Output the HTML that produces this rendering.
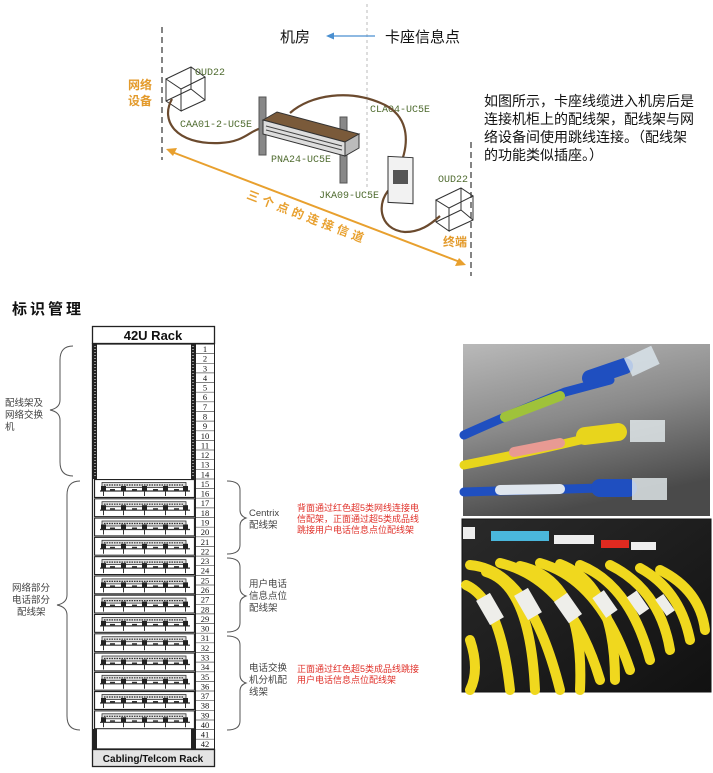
<!DOCTYPE html>
<html><head><meta charset="utf-8"><style>
body{margin:0;background:#fff;width:713px;height:773px;overflow:hidden}
svg{display:block}
.cn{font-family:"Liberation Sans","Noto Sans CJK SC",sans-serif}
.mono{font-family:"Liberation Mono","DejaVu Sans Mono",monospace;fill:#4f6b2f;font-size:10px}
</style></head><body>
<svg width="713" height="773" viewBox="0 0 713 773" xmlns="http://www.w3.org/2000/svg">
<defs>
<symbol id="pp" viewBox="0 0 101 19" width="101" height="19">
<rect x="0.5" y="0.5" width="100" height="18" fill="#fff" stroke="#222" stroke-width="1.2"/>
<rect x="8" y="3.5" width="84" height="5" fill="#ddd" stroke="#333" stroke-width="0.8"/>
<path d="M10 6h80" stroke="#333" stroke-width="1.2" stroke-dasharray="1.5 1"/>
<line x1="6" y1="12" x2="96" y2="12" stroke="#333" stroke-width="1.2"/>
<g fill="#222"><rect x="7" y="7" width="5" height="5"/><rect x="27" y="7" width="5" height="5"/><rect x="48" y="7" width="5" height="5"/><rect x="69" y="7" width="5" height="5"/><rect x="89" y="7" width="5" height="5"/></g>
<g stroke="#333" stroke-width="1"><line x1="9.5" y1="12" x2="9.5" y2="17"/><line x1="29.5" y1="12" x2="29.5" y2="17"/><line x1="50.5" y1="12" x2="50.5" y2="17"/><line x1="71.5" y1="12" x2="71.5" y2="17"/><line x1="91.5" y1="12" x2="91.5" y2="17"/></g>
<g fill="#333"><rect x="16" y="10" width="5" height="1.5"/><rect x="38" y="10" width="5" height="1.5"/><rect x="59" y="10" width="5" height="1.5"/><rect x="80" y="10" width="5" height="1.5"/></g>
</symbol>
<linearGradient id="g1" x1="0" y1="0" x2="0.3" y2="1"><stop offset="0" stop-color="#b9b9b9"/><stop offset="0.5" stop-color="#8a8a8a"/><stop offset="1" stop-color="#4a4a4a"/></linearGradient>
<linearGradient id="g2" x1="0" y1="0" x2="1" y2="1"><stop offset="0" stop-color="#2a2a2a"/><stop offset="1" stop-color="#111"/></linearGradient>
</defs>

<!-- TOP DIAGRAM -->
<line x1="367" y1="4" x2="367" y2="190" stroke="#bbb" stroke-dasharray="3 3"/>
<line x1="162" y1="27" x2="162" y2="160" stroke="#333" stroke-width="1.2" stroke-dasharray="6 4"/>
<line x1="471" y1="142" x2="471" y2="276" stroke="#333" stroke-width="1.2" stroke-dasharray="6 4"/>
<text x="280" y="42" class="cn" font-size="15" fill="#111">机房</text>
<text x="385" y="42" class="cn" font-size="15" fill="#111">卡座信息点</text>
<line x1="332" y1="36" x2="375" y2="36" stroke="#4a8fd0" stroke-width="1.2"/>
<path d="M326 36l8-3.5v7z" fill="#4a8fd0"/>
<text x="128" y="89" class="cn" font-size="12" font-weight="bold" fill="#e39a2b">网络</text>
<text x="128" y="105" class="cn" font-size="12" font-weight="bold" fill="#e39a2b">设备</text>
<text x="443" y="246" class="cn" font-size="12" font-weight="bold" fill="#e39a2b">终端</text>
<g fill="none" stroke="#333" stroke-width="1"><path d="M166 79l25-12 14 10-24 12zM166 79v22l15 10v-22M205 77v23l-24 11M191 67v22l-25 12M191 89l14 11"/></g>
<g fill="none" stroke="#333" stroke-width="1"><path d="M436 200l25-12 12 8-24 12zM436 200v22l13 9v-23M473 196v24l-24 11M461 188v22l-25 12M461 210l12 10"/></g>
<text x="195" y="75" class="mono">OUD22</text>
<text x="438" y="182" class="mono">OUD22</text>
<text x="180" y="127" class="mono">CAA01-2-UC5E</text>
<text x="271" y="162" class="mono">PNA24-UC5E</text>
<text x="370" y="112" class="mono">CLA04-UC5E</text>
<text x="319" y="198" class="mono">JKA09-UC5E</text>
<g fill="none" stroke="#6b4a2e" stroke-width="2.2">
<path d="M172 99C160 120 175 145 220 143C245 142 250 130 262 128"/>
<path d="M290 113C310 95 350 88 385 105C410 118 410 145 398 170"/>
<path d="M393 186C375 200 378 230 405 232C420 232 430 225 440 216"/>
</g>
<rect x="259" y="97" width="7" height="58" fill="#888" stroke="#555"/>
<rect x="340" y="117" width="7" height="66" fill="#888" stroke="#555"/>
<path d="M263 120l14-8 82 22-14 8z" fill="#7a5a3a" stroke="#333"/>
<path d="M263 120l82 22v14l-82-22z" fill="#ddd" stroke="#333"/>
<path d="M266 126l76 20M266 130l76 20" stroke="#444"/>
<path d="M345 142l14-8v14l-14 8z" fill="#bbb" stroke="#333"/>
<rect x="388" y="157" width="25" height="46" fill="#f2f2f2" stroke="#333" transform="skewY(3)" transform-origin="400 180"/>
<rect x="393" y="170" width="15" height="14" fill="#555"/>
<line x1="172" y1="152" x2="460" y2="262" stroke="#e8a02e" stroke-width="2"/>
<path d="M166 149l11-1-4 8z" fill="#e8a02e"/>
<path d="M466 265l-11 1 4-8z" fill="#e8a02e"/>
<text transform="translate(246 198) rotate(21)" class="cn" font-size="12" font-weight="bold" fill="#e8a02e" letter-spacing="4">三个点的连接信道</text>
<g class="cn" font-size="14" fill="#111">
<text x="484" y="106">如图所示，卡座线缆进入机房后是</text>
<text x="484" y="124">连接机柜上的配线架，配线架与网</text>
<text x="484" y="142">络设备间使用跳线连接。（配线架</text>
<text x="484" y="160">的功能类似插座。）</text>
</g>

<text x="12" y="314" class="cn" font-size="15" font-weight="bold" fill="#111" letter-spacing="3">标识管理</text>

<!-- RACK -->
<rect x="92.5" y="326.5" width="122" height="17" fill="#fff" stroke="#222" stroke-width="1.3"/>
<text x="153" y="340" text-anchor="middle" class="cn" font-size="13" font-weight="bold" fill="#111">42U Rack</text>
<rect x="92.5" y="344" width="103" height="405" fill="#fff" stroke="#222" stroke-width="1.3"/>
<rect x="93" y="344" width="4" height="135" fill="#222"/><rect x="191" y="344" width="4" height="135" fill="#222"/>
<rect x="93" y="729" width="4" height="20" fill="#222"/><rect x="191" y="729" width="4" height="20" fill="#222"/>
<line x1="95" y1="346" x2="95" y2="478" stroke="#fff" stroke-dasharray="1 2"/>
<line x1="193" y1="346" x2="193" y2="478" stroke="#fff" stroke-dasharray="1 2"/>
<rect x="195.5" y="344" width="19" height="405" fill="#fff" stroke="#222" stroke-width="1"/>
<g stroke="#555" stroke-width="0.7">
<line x1="196" x2="214" y1="353.6" y2="353.6"/><line x1="196" x2="214" y1="363.3" y2="363.3"/><line x1="196" x2="214" y1="372.9" y2="372.9"/><line x1="196" x2="214" y1="382.6" y2="382.6"/><line x1="196" x2="214" y1="392.2" y2="392.2"/><line x1="196" x2="214" y1="401.8" y2="401.8"/><line x1="196" x2="214" y1="411.5" y2="411.5"/><line x1="196" x2="214" y1="421.1" y2="421.1"/><line x1="196" x2="214" y1="430.8" y2="430.8"/><line x1="196" x2="214" y1="440.4" y2="440.4"/><line x1="196" x2="214" y1="450" y2="450"/><line x1="196" x2="214" y1="459.7" y2="459.7"/><line x1="196" x2="214" y1="469.3" y2="469.3"/><line x1="196" x2="214" y1="479" y2="479"/><line x1="196" x2="214" y1="488.6" y2="488.6"/><line x1="196" x2="214" y1="498.2" y2="498.2"/><line x1="196" x2="214" y1="507.9" y2="507.9"/><line x1="196" x2="214" y1="517.5" y2="517.5"/><line x1="196" x2="214" y1="527.2" y2="527.2"/><line x1="196" x2="214" y1="536.8" y2="536.8"/><line x1="196" x2="214" y1="546.4" y2="546.4"/><line x1="196" x2="214" y1="556.1" y2="556.1"/><line x1="196" x2="214" y1="565.7" y2="565.7"/><line x1="196" x2="214" y1="575.4" y2="575.4"/><line x1="196" x2="214" y1="585" y2="585"/><line x1="196" x2="214" y1="594.6" y2="594.6"/><line x1="196" x2="214" y1="604.3" y2="604.3"/><line x1="196" x2="214" y1="613.9" y2="613.9"/><line x1="196" x2="214" y1="623.6" y2="623.6"/><line x1="196" x2="214" y1="633.2" y2="633.2"/><line x1="196" x2="214" y1="642.8" y2="642.8"/><line x1="196" x2="214" y1="652.5" y2="652.5"/><line x1="196" x2="214" y1="662.1" y2="662.1"/><line x1="196" x2="214" y1="671.8" y2="671.8"/><line x1="196" x2="214" y1="681.4" y2="681.4"/><line x1="196" x2="214" y1="691" y2="691"/><line x1="196" x2="214" y1="700.7" y2="700.7"/><line x1="196" x2="214" y1="710.3" y2="710.3"/><line x1="196" x2="214" y1="720" y2="720"/><line x1="196" x2="214" y1="729.6" y2="729.6"/><line x1="196" x2="214" y1="739.2" y2="739.2"/>
</g>
<g font-family="Liberation Serif,serif" font-size="8.5" fill="#111" text-anchor="middle">
<text x="205" y="352">1</text><text x="205" y="361.6">2</text><text x="205" y="371.3">3</text><text x="205" y="380.9">4</text><text x="205" y="390.6">5</text><text x="205" y="400.2">6</text><text x="205" y="409.8">7</text><text x="205" y="419.5">8</text><text x="205" y="429.1">9</text><text x="205" y="438.8">10</text><text x="205" y="448.4">11</text><text x="205" y="458">12</text><text x="205" y="467.7">13</text><text x="205" y="477.3">14</text><text x="205" y="487">15</text><text x="205" y="496.6">16</text><text x="205" y="506.2">17</text><text x="205" y="515.9">18</text><text x="205" y="525.5">19</text><text x="205" y="535.2">20</text><text x="205" y="544.8">21</text><text x="205" y="554.4">22</text><text x="205" y="564.1">23</text><text x="205" y="573.7">24</text><text x="205" y="583.4">25</text><text x="205" y="593">26</text><text x="205" y="602.6">27</text><text x="205" y="612.3">28</text><text x="205" y="621.9">29</text><text x="205" y="631.6">30</text><text x="205" y="641.2">31</text><text x="205" y="650.8">32</text><text x="205" y="660.5">33</text><text x="205" y="670.1">34</text><text x="205" y="679.8">35</text><text x="205" y="689.4">36</text><text x="205" y="699">37</text><text x="205" y="708.7">38</text><text x="205" y="718.3">39</text><text x="205" y="728">40</text><text x="205" y="737.6">41</text><text x="205" y="747.2">42</text>
</g>
<use href="#pp" x="94" y="479"/><use href="#pp" x="94" y="498.2"/><use href="#pp" x="94" y="517.5"/><use href="#pp" x="94" y="536.8"/><use href="#pp" x="94" y="556.1"/><use href="#pp" x="94" y="575.4"/><use href="#pp" x="94" y="594.6"/><use href="#pp" x="94" y="613.9"/><use href="#pp" x="94" y="633.2"/><use href="#pp" x="94" y="652.5"/><use href="#pp" x="94" y="671.8"/><use href="#pp" x="94" y="691"/><use href="#pp" x="94" y="710.3"/>
<rect x="92.5" y="749.5" width="122" height="17" fill="#e4e4e4" stroke="#222" stroke-width="1.3"/>
<text x="153" y="762" text-anchor="middle" class="cn" font-size="10" font-weight="bold" fill="#111">Cabling/Telcom Rack</text>

<g fill="none" stroke="#555" stroke-width="1">
<path d="M73 346Q60 346 60 360V400Q60 408 50 410Q60 412 60 420V462Q60 476 73 476"/>
<path d="M80 481Q67 481 67 495V595Q67 603 57 605Q67 607 67 615V716Q67 730 80 730"/>
<path d="M227 481Q240 481 240 490V510Q240 516 246 518Q240 520 240 526V545Q240 554 227 554"/>
<path d="M227 558Q240 558 240 567V588Q240 594 246 596Q240 598 240 604V623Q240 632 227 632"/>
<path d="M227 636Q240 636 240 645V675Q240 681 246 683Q240 685 240 691V721Q240 730 227 730"/>
</g>
<g class="cn" font-size="9.5" fill="#444">
<text x="5" y="406">配线架及</text><text x="5" y="418">网络交换</text><text x="5" y="430">机</text>
<text x="12" y="591">网络部分</text><text x="12" y="603">电话部分</text><text x="17" y="615">配线架</text>
<text x="249" y="516">Centrix</text><text x="249" y="528">配线架</text>
<text x="249" y="587">用户电话</text><text x="249" y="599">信息点位</text><text x="249" y="611">配线架</text>
<text x="249" y="671">电话交换</text><text x="249" y="683">机分机配</text><text x="249" y="695">线架</text>
</g>
<g class="cn" font-size="9" fill="#e0312a">
<text x="297" y="511">背面通过红色超5类网线连接电</text><text x="297" y="522">信配架，正面通过超5类成品线</text><text x="297" y="533">跳接用户电话信息点位配线架</text>
<text x="297" y="672">正面通过红色超5类成品线跳接</text><text x="297" y="683">用户电话信息点位配线架</text>
</g>

<!-- PHOTO 1 -->
<rect x="463" y="344" width="247" height="172" fill="url(#g1)"/>
<g fill="none" stroke-linecap="round">
<path d="M464 435Q520 410 565 392L610 380" stroke="#1f4fc0" stroke-width="9"/>
<path d="M505 417L560 396" stroke="#9fc23a" stroke-width="10"/>
<path d="M590 378L625 366" stroke="#1f4fc0" stroke-width="16"/>
<path d="M464 465Q530 452 580 440" stroke="#e8d51c" stroke-width="9"/>
<path d="M514 452L560 443" stroke="#e89a93" stroke-width="10"/>
<path d="M585 436L618 432" stroke="#e8d51c" stroke-width="18"/>
<path d="M464 492L600 488" stroke="#1f4fc0" stroke-width="9"/>
<path d="M500 490L560 489" stroke="#dfe6ee" stroke-width="10"/>
<path d="M600 488L628 488" stroke="#1f4fc0" stroke-width="18"/>
</g>
<rect x="627" y="352" width="30" height="20" fill="#dde8f0" opacity="0.8" transform="rotate(-25 640 362)"/>
<rect x="630" y="420" width="35" height="22" fill="#e6eef0" opacity="0.8"/>
<rect x="632" y="478" width="35" height="22" fill="#e6eef0" opacity="0.8"/>
<!-- PHOTO 2 -->
<rect x="462" y="519" width="249" height="173" fill="url(#g2)" stroke="#111"/>
<rect x="491" y="531" width="58" height="10" fill="#4ab7dc"/>
<rect x="554" y="535" width="40" height="9" fill="#eee"/>
<rect x="601" y="540" width="28" height="8" fill="#e02a20"/>
<rect x="631" y="542" width="25" height="8" fill="#eee"/>
<rect x="463" y="527" width="12" height="12" fill="#eee"/>
<g fill="none" stroke="#f0d81e" stroke-width="10" stroke-linecap="round">
<path d="M466 585Q500 600 510 690"/><path d="M470 565Q530 570 560 690"/><path d="M500 563Q570 580 600 680"/>
<path d="M540 563Q600 580 630 670"/><path d="M580 565Q630 585 650 660"/><path d="M610 565Q660 590 670 650"/>
<path d="M640 568Q680 590 690 640"/><path d="M470 640Q480 670 470 690"/>
<path d="M486 572Q530 585 535 690"/><path d="M520 566Q585 580 580 690"/><path d="M560 564Q615 585 615 680"/><path d="M660 570Q700 590 705 630"/>
</g>
<g fill="#eeeeea">
<rect x="482" y="595" width="16" height="28" transform="rotate(-30 490 609)"/>
<rect x="520" y="590" width="16" height="28" transform="rotate(-30 528 604)"/>
<rect x="560" y="595" width="16" height="26" transform="rotate(-35 568 608)"/>
<rect x="598" y="592" width="14" height="24" transform="rotate(-35 605 604)"/>
<rect x="632" y="592" width="12" height="22" transform="rotate(-35 638 603)"/>
<rect x="660" y="595" width="10" height="20" transform="rotate(-35 665 605)"/>
</g>
</svg>
</body></html>
